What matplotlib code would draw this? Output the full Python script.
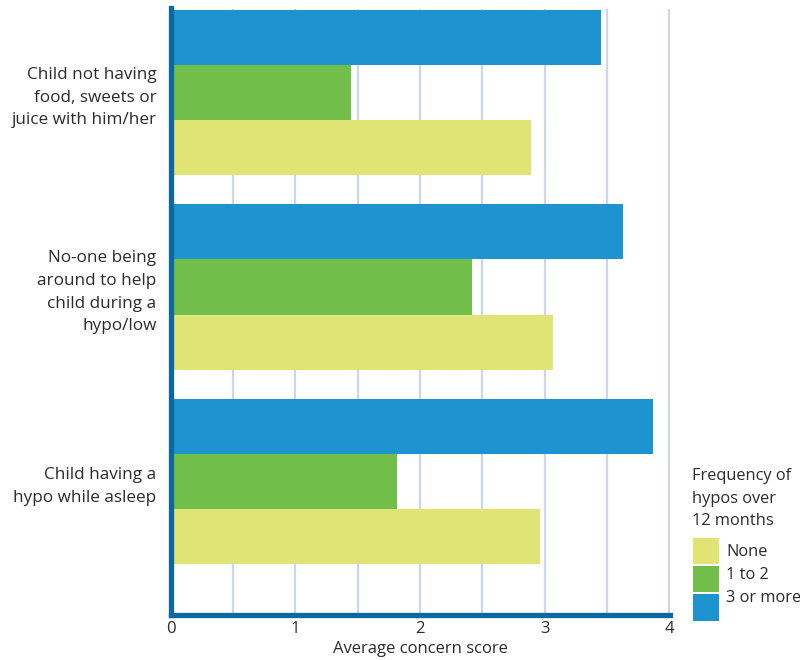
import matplotlib.pyplot as plt
from matplotlib.patches import Rectangle
import numpy as np

plt.rcParams['font.family'] = ['Open Sans', 'DejaVu Sans']

categories = [
    "Child not having\nfood, sweets or\njuice with him/her",
    "No-one being\naround to help\nchild during a\nhypo/low",
    "Child having a\nhypo while asleep",
]
none_vals = [2.89, 3.07, 2.96]
one_to_two_vals = [1.45, 2.42, 1.82]
three_plus_vals = [3.45, 3.63, 3.87]
series_labels = ["None", "1 to 2", "3 or more"]
x_ticks = [0, 1, 2, 3, 4]

col_none = '#dfe474'
col_one = '#71bf4a'
col_three = '#1d93d0'
spine_col = '#0b68a0'
grid_col = '#c9d6eb'
text_col = '#2b2b2b'

fig = plt.figure(figsize=(8, 6.6), dpi=100)
ax = fig.add_axes([170.5 / 800, 45.5 / 660, (670 - 170.5) / 800, (651.5 - 45.5) / 660])

y = np.arange(len(categories))
h = 0.283
ax.barh(y - h, three_plus_vals, height=h, color=col_three, zorder=2)
ax.barh(y, one_to_two_vals, height=h, color=col_one, zorder=2)
ax.barh(y + h, none_vals, height=h, color=col_none, zorder=2)

ax.set_xlim(0, 4.006)
ax.set_ylim(2.684, -0.432)

ax.set_xticks(x_ticks)
ax.set_xticklabels([str(t) for t in x_ticks])
ax.set_xticks(np.arange(0.5, 4, 1.0), minor=True)
ax.grid(axis='x', which='both', color=grid_col, linewidth=1.6, zorder=0)
ax.set_axisbelow(True)

ax.set_yticks(y)
ax.set_yticklabels(categories, fontsize=12.3, color=text_col, linespacing=1.55)
ax.tick_params(axis='y', length=0, pad=10)
ax.tick_params(axis='x', which='both', length=0, pad=5, labelsize=12, labelcolor=text_col)

for s in ['top', 'right']:
    ax.spines[s].set_visible(False)
for s in ['left', 'bottom']:
    ax.spines[s].set_color(spine_col)
    ax.spines[s].set_linewidth(3.8)

ax.set_xlabel("Average concern score", fontsize=12, color=text_col, labelpad=2.5)

# legend drawn by hand at the lower right
fig.text(692 / 800, 1 - 468 / 660, "Frequency of\nhypos over\n12 months",
         fontsize=11.8, color=text_col, va='top', ha='left', linespacing=1.55)
patch_tops = [537.5, 565.5, 594]
label_mid = [552, 575, 598]
for col, lab, top, mid in zip([col_none, col_one, col_three], series_labels, patch_tops, label_mid):
    fig.patches.append(Rectangle((693 / 800, 1 - (top + 26.5) / 660), 26 / 800, 26.5 / 660,
                                 transform=fig.transFigure, facecolor=col, edgecolor='none'))
    fig.text(726 / 800, 1 - mid / 660, lab, fontsize=11.8, color=text_col, va='center', ha='left')

fig.savefig('out.png', dpi=100)
